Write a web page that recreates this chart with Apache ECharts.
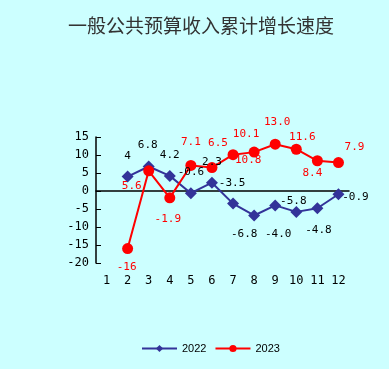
<!DOCTYPE html>
<html><head><meta charset="utf-8">
<script src="https://cdn.jsdelivr.net/npm/echarts@6/dist/echarts.min.js"></script>
<style>html,body{margin:0;padding:0;background:#fff}#c{width:389px;height:369px}</style>
</head><body><div id="c"></div>
<script>
var months = ['1','2','3','4','5','6','7','8','9','10','11','12'];
var v2022 = [null, 4, 6.8, 4.2, -0.6, 2.3, -3.5, -6.8, -4.0, -5.8, -4.8, -0.9];
var v2023 = [null, -16, 5.6, -1.9, 7.1, 6.5, 10.1, 10.8, 13.0, 11.6, 8.4, 7.9];
var yTicks = {min: -20, max: 15, interval: 5};
// label offsets (style only)
var off2022 = [null,[0,-20],[-1,-21],[0,-21],[0,-21],[0,-21],[-1,-20],[-10,19],[3,29],[-3,-11],[1,22],[17,3]];
var off2023 = [null,[-1,19],[-17,15],[-2,21],[0,-23],[6,-24],[13,-20],[-6,8],[2,-22],[6,-12],[-5,12],[16,-15]];

var numFont = 'DejaVu Sans Mono';
function build(vals, offs, color){
  return vals.map(function(v,i){
    if (v === null) return null;
    return {value: v, label: {show: true, position: 'inside', offset: offs[i], color: color,
      fontFamily: numFont, fontSize: 11,
      formatter: (v === 4 || v === -16) ? String(v) : v.toFixed(1)}};
  });
}
var chart = echarts.init(document.getElementById('c'));
chart.setOption({
  backgroundColor: '#CCFFFF',
  animation: false,
  title: {text: '一般公共预算收入累计增长速度', left: 63, top: 11,
    textStyle: {fontFamily: 'Noto Sans CJK SC', fontSize: 19, fontWeight: 'normal', color: '#333'}},
  legend: {bottom: 10, left: 136, itemWidth: 35, itemHeight: 9, itemGap: 8,
    textStyle: {fontFamily: 'Liberation Sans', fontSize: 11, color: '#000'},
    data: ['2022','2023']},
  grid: {left: 96, right: 40, top: 137, bottom: 106},
  xAxis: {type: 'category', data: months, boundaryGap: true,
    axisLine: {onZero: true, lineStyle: {color: '#000', width: 1.5}},
    axisTick: {inside: true, length: 5, lineStyle: {color: '#000'}},
    axisLabel: {color: '#000', fontFamily: numFont, fontSize: 12, margin: 12}},
  yAxis: {type: 'value', min: yTicks.min, max: yTicks.max, interval: yTicks.interval,
    splitLine: {show: false},
    axisLine: {show: true, lineStyle: {color: '#000', width: 1.5}},
    axisTick: {show: true, inside: true, length: 5, lineStyle: {color: '#000'}},
    axisLabel: {color: '#000', fontFamily: numFont, fontSize: 12, margin: 7}},
  series: [
    {name: '2022', type: 'line', data: build(v2022, off2022, '#000'), connectNulls: false,
     symbol: 'diamond', symbolSize: 12, itemStyle: {color: '#333399'},
     lineStyle: {color: '#333399', width: 2}},
    {name: '2023', type: 'line', data: build(v2023, off2023, '#FF0000'),
     symbol: 'circle', symbolSize: 11, itemStyle: {color: '#FF0000'},
     lineStyle: {color: '#FF0000', width: 2}}
  ]
});
</script></body></html>
